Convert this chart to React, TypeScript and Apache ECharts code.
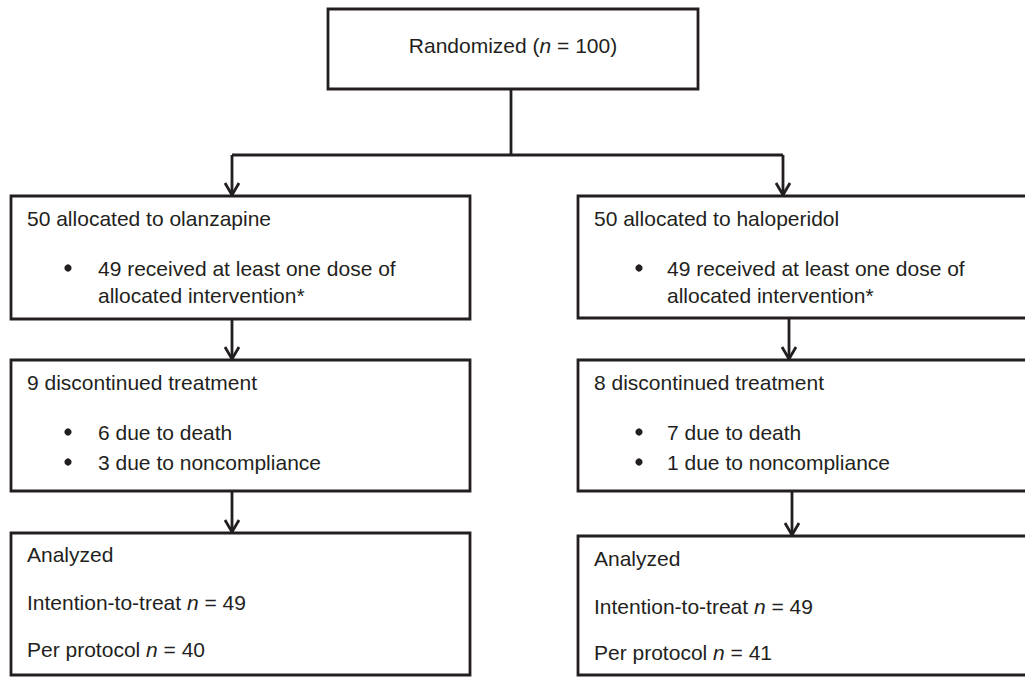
import React, { useEffect, useRef } from "react";
import * as echarts from "echarts";

// ---- data ----
const randomizedN = 100;
const arms = ["olanzapine", "haloperidol"];
const allocated = [50, 50];
const receivedDose = [49, 49];
const discontinued = [9, 8];
const dueToDeath = [6, 7];
const dueToNoncompliance = [3, 1];
const ittN = [49, 49];
const perProtocolN = [40, 41];

// ---- layout ----
const W = 1025;
const H = 677;
const FONT = '"Liberation Sans", Arial, Helvetica, sans-serif';
const FS = 21;
const INK = "#231f20";
const LW = 2.8;

const topBox = { x: 328, y: 9, w: 370, h: 80 };
const connectorY = 155;
const cols = [
  {
    boxX: 11, boxW: 459, textX: 27, bulletX: 68, bulletTextX: 98,
    rows: [
      { y: 196, h: 123 },
      { y: 360, h: 131 },
      { y: 533, h: 142 },
    ],
    arrowX: [232, 232, 232],
    textY: [[218, 268, 295], [382, 432, 462], [554, 602, 649]],
  },
  {
    boxX: 578, boxW: 470, textX: 594, bulletX: 639, bulletTextX: 667,
    rows: [
      { y: 196, h: 122 },
      { y: 360, h: 131 },
      { y: 536, h: 139 },
    ],
    arrowX: [783, 789, 792],
    textY: [[218, 268, 295], [382, 432, 462], [558, 606, 652]],
  },
];

const rich = {
  i: { fontStyle: "italic", fontSize: FS, fontFamily: FONT, fill: INK },
  r: { fontSize: FS, fontFamily: FONT, fill: INK },
};

function txt(x: number, y: number, text: string, align = "left") {
  return {
    type: "text",
    x,
    y,
    silent: true,
    style: {
      text,
      fontSize: FS,
      fontFamily: FONT,
      fill: INK,
      align,
      verticalAlign: "middle",
      rich,
    },
  };
}

function rect(x: number, y: number, w: number, h: number) {
  return {
    type: "rect",
    shape: { x, y, width: w, height: h },
    style: { fill: "#fff", stroke: INK, lineWidth: LW },
  };
}

function line(x1: number, y1: number, x2: number, y2: number) {
  return {
    type: "line",
    shape: { x1, y1, x2, y2 },
    style: { stroke: INK, lineWidth: LW },
  };
}

function arrowHead(x: number, y: number) {
  return {
    type: "polyline",
    shape: { points: [[x - 7, y - 13], [x, y - 1], [x + 7, y - 13]] },
    style: { stroke: INK, lineWidth: LW, fill: "none" },
  };
}

function bullet(x: number, y: number) {
  return { type: "circle", shape: { cx: x, cy: y, r: 3.6 }, style: { fill: INK } };
}

function buildGraphics() {
  const els: any[] = [];
  // connectors
  els.push(line(topBox.x + topBox.w / 2 - 2, topBox.y + topBox.h, topBox.x + topBox.w / 2 - 2, connectorY));
  els.push(line(cols[0].arrowX[0], connectorY, cols[1].arrowX[0], connectorY));
  cols.forEach((c) => {
    els.push(line(c.arrowX[0], connectorY, c.arrowX[0], c.rows[0].y));
    els.push(arrowHead(c.arrowX[0], c.rows[0].y));
    for (let k = 1; k < 3; k++) {
      const prev = c.rows[k - 1];
      els.push(line(c.arrowX[k], prev.y + prev.h, c.arrowX[k], c.rows[k].y));
      els.push(arrowHead(c.arrowX[k], c.rows[k].y));
    }
  });
  // top box
  els.push(rect(topBox.x, topBox.y, topBox.w, topBox.h));
  els.push(txt(topBox.x + topBox.w / 2, 45, `Randomized ({i|n}{r| = ${randomizedN})}`, "center"));
  // arm boxes
  cols.forEach((c, a) => {
    c.rows.forEach((r) => els.push(rect(c.boxX, r.y, c.boxW, r.h)));
    const ty = c.textY;
    els.push(txt(c.textX, ty[0][0], `${allocated[a]} allocated to ${arms[a]}`));
    els.push(bullet(c.bulletX, ty[0][1]));
    els.push(txt(c.bulletTextX, ty[0][1], `${receivedDose[a]} received at least one dose of`));
    els.push(txt(c.bulletTextX, ty[0][2], "allocated intervention*"));
    els.push(txt(c.textX, ty[1][0], `${discontinued[a]} discontinued treatment`));
    els.push(bullet(c.bulletX, ty[1][1]));
    els.push(txt(c.bulletTextX, ty[1][1], `${dueToDeath[a]} due to death`));
    els.push(bullet(c.bulletX, ty[1][2]));
    els.push(txt(c.bulletTextX, ty[1][2], `${dueToNoncompliance[a]} due to noncompliance`));
    els.push(txt(c.textX, ty[2][0], "Analyzed"));
    els.push(txt(c.textX, ty[2][1], `Intention-to-treat {i|n}{r| = ${ittN[a]}}`));
    els.push(txt(c.textX, ty[2][2], `Per protocol {i|n}{r| = ${perProtocolN[a]}}`));
  });
  return els;
}

export default function App() {
  const ref = useRef<HTMLDivElement>(null);
  useEffect(() => {
    if (!ref.current) return;
    const chart = echarts.init(ref.current, undefined, { renderer: "svg", width: W, height: H });
    chart.setOption({
      animation: false,
      backgroundColor: "#ffffff",
      graphic: { elements: buildGraphics() },
    });
    return () => chart.dispose();
  }, []);
  return (
    <div
      ref={ref}
      style={{ position: "fixed", left: 0, top: 0, width: W, height: H, background: "#fff" }}
    />
  );
}
